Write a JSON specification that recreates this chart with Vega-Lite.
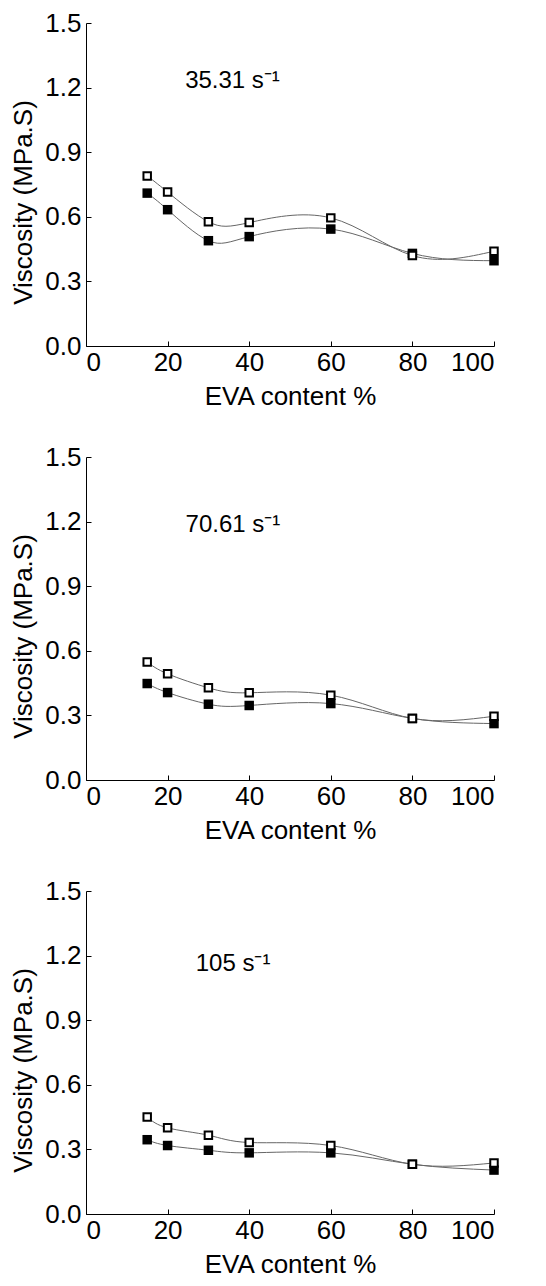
{
  "$schema": "https://vega.github.io/schema/vega-lite/v6.json",
  "background": "white",
  "padding": {"left": 10, "top": 10, "right": 5, "bottom": 5},
  "spacing": 35,
  "config": {
    "view": {"stroke": null},
    "font": "Liberation Sans",
    "axis": {
      "labelFont": "Liberation Sans", "labelFontSize": 26, "labelColor": "black",
      "titleFont": "Liberation Sans", "titleFontSize": 26, "titleFontWeight": "normal", "titleColor": "black",
      "domainColor": "black", "tickColor": "black", "grid": false, "tickSize": -5
    },
    "axisX": {"labelPadding": 8, "titlePadding": 8},
    "axisY": {"labelPadding": 10, "titlePadding": 8, "titleY": 179}
  },
  "data": {"values": [
    {"p": 1, "s": "open", "x": 15, "y": 0.79}, {"p": 1, "s": "open", "x": 20, "y": 0.715}, {"p": 1, "s": "open", "x": 30, "y": 0.577}, {"p": 1, "s": "open", "x": 40, "y": 0.573}, {"p": 1, "s": "open", "x": 60, "y": 0.595}, {"p": 1, "s": "open", "x": 80, "y": 0.42}, {"p": 1, "s": "open", "x": 100, "y": 0.44},
    {"p": 1, "s": "filled", "x": 15, "y": 0.71}, {"p": 1, "s": "filled", "x": 20, "y": 0.633}, {"p": 1, "s": "filled", "x": 30, "y": 0.489}, {"p": 1, "s": "filled", "x": 40, "y": 0.508}, {"p": 1, "s": "filled", "x": 60, "y": 0.543}, {"p": 1, "s": "filled", "x": 80, "y": 0.43}, {"p": 1, "s": "filled", "x": 100, "y": 0.396},
    {"p": 2, "s": "open", "x": 15, "y": 0.548}, {"p": 2, "s": "open", "x": 20, "y": 0.493}, {"p": 2, "s": "open", "x": 30, "y": 0.428}, {"p": 2, "s": "open", "x": 40, "y": 0.405}, {"p": 2, "s": "open", "x": 60, "y": 0.394}, {"p": 2, "s": "open", "x": 80, "y": 0.286}, {"p": 2, "s": "open", "x": 100, "y": 0.296},
    {"p": 2, "s": "filled", "x": 15, "y": 0.448}, {"p": 2, "s": "filled", "x": 20, "y": 0.406}, {"p": 2, "s": "filled", "x": 30, "y": 0.352}, {"p": 2, "s": "filled", "x": 40, "y": 0.346}, {"p": 2, "s": "filled", "x": 60, "y": 0.355}, {"p": 2, "s": "filled", "x": 80, "y": 0.286}, {"p": 2, "s": "filled", "x": 100, "y": 0.262},
    {"p": 3, "s": "open", "x": 15, "y": 0.45}, {"p": 3, "s": "open", "x": 20, "y": 0.40}, {"p": 3, "s": "open", "x": 30, "y": 0.366}, {"p": 3, "s": "open", "x": 40, "y": 0.332}, {"p": 3, "s": "open", "x": 60, "y": 0.318}, {"p": 3, "s": "open", "x": 80, "y": 0.231}, {"p": 3, "s": "open", "x": 100, "y": 0.237},
    {"p": 3, "s": "filled", "x": 15, "y": 0.345}, {"p": 3, "s": "filled", "x": 20, "y": 0.318}, {"p": 3, "s": "filled", "x": 30, "y": 0.296}, {"p": 3, "s": "filled", "x": 40, "y": 0.284}, {"p": 3, "s": "filled", "x": 60, "y": 0.284}, {"p": 3, "s": "filled", "x": 80, "y": 0.231}, {"p": 3, "s": "filled", "x": 100, "y": 0.204}
  ]},
  "vconcat": [
    {
      "width": 408, "height": 323,
      "layer": [
        {
          "transform": [{"filter": "datum.p == 1"}],
          "encoding": {
            "x": {"field": "x", "type": "quantitative", "scale": {"domain": [0, 100]}, "axis": {"values": [0, 20, 40, 60, 80, 100], "title": "EVA content %"}},
            "y": {"field": "y", "type": "quantitative", "scale": {"domain": [0, 1.5]}, "axis": {"values": [0, 0.3, 0.6, 0.9, 1.2, 1.5], "format": ".1f", "title": "Viscosity (MPa.S)"}}
          },
          "layer": [
            {"mark": {"type": "line", "interpolate": "natural", "color": "#666", "strokeWidth": 1}, "encoding": {"detail": {"field": "s"}}},
            {"transform": [{"filter": "datum.s == 'filled'"}], "mark": {"type": "point", "shape": "square", "filled": true, "color": "black", "size": 90, "opacity": 1}},
            {"transform": [{"filter": "datum.s == 'open'"}], "mark": {"type": "point", "shape": "square", "fill": "white", "stroke": "black", "strokeWidth": 2, "size": 56, "opacity": 1}}
          ]
        },
        {"data": {"values": [{"label": "35.31 s⁻¹"}]}, "mark": {"type": "text", "font": "Liberation Sans", "fontSize": 24, "align": "left", "baseline": "alphabetic", "color": "black"},
         "encoding": {"text": {"field": "label"},
           "x": {"datum": 24.3, "type": "quantitative", "scale": {"domain": [0, 100]}, "axis": {"values": [0, 20, 40, 60, 80, 100], "title": "EVA content %"}},
           "y": {"datum": 1.2, "type": "quantitative", "scale": {"domain": [0, 1.5]}, "axis": {"values": [0, 0.3, 0.6, 0.9, 1.2, 1.5], "format": ".1f", "title": "Viscosity (MPa.S)"}}}}
      ]
    },
    {
      "width": 408, "height": 323,
      "layer": [
        {
          "transform": [{"filter": "datum.p == 2"}],
          "encoding": {
            "x": {"field": "x", "type": "quantitative", "scale": {"domain": [0, 100]}, "axis": {"values": [0, 20, 40, 60, 80, 100], "title": "EVA content %"}},
            "y": {"field": "y", "type": "quantitative", "scale": {"domain": [0, 1.5]}, "axis": {"values": [0, 0.3, 0.6, 0.9, 1.2, 1.5], "format": ".1f", "title": "Viscosity (MPa.S)"}}
          },
          "layer": [
            {"mark": {"type": "line", "interpolate": "natural", "color": "#666", "strokeWidth": 1}, "encoding": {"detail": {"field": "s"}}},
            {"transform": [{"filter": "datum.s == 'filled'"}], "mark": {"type": "point", "shape": "square", "filled": true, "color": "black", "size": 90, "opacity": 1}},
            {"transform": [{"filter": "datum.s == 'open'"}], "mark": {"type": "point", "shape": "square", "fill": "white", "stroke": "black", "strokeWidth": 2, "size": 56, "opacity": 1}}
          ]
        },
        {"data": {"values": [{"label": "70.61 s⁻¹"}]}, "mark": {"type": "text", "font": "Liberation Sans", "fontSize": 24, "align": "left", "baseline": "alphabetic", "color": "black"},
         "encoding": {"text": {"field": "label"},
           "x": {"datum": 24.4, "type": "quantitative", "scale": {"domain": [0, 100]}, "axis": {"values": [0, 20, 40, 60, 80, 100], "title": "EVA content %"}},
           "y": {"datum": 1.153, "type": "quantitative", "scale": {"domain": [0, 1.5]}, "axis": {"values": [0, 0.3, 0.6, 0.9, 1.2, 1.5], "format": ".1f", "title": "Viscosity (MPa.S)"}}}}
      ]
    },
    {
      "width": 408, "height": 323,
      "layer": [
        {
          "transform": [{"filter": "datum.p == 3"}],
          "encoding": {
            "x": {"field": "x", "type": "quantitative", "scale": {"domain": [0, 100]}, "axis": {"values": [0, 20, 40, 60, 80, 100], "title": "EVA content %"}},
            "y": {"field": "y", "type": "quantitative", "scale": {"domain": [0, 1.5]}, "axis": {"values": [0, 0.3, 0.6, 0.9, 1.2, 1.5], "format": ".1f", "title": "Viscosity (MPa.S)"}}
          },
          "layer": [
            {"mark": {"type": "line", "interpolate": "natural", "color": "#666", "strokeWidth": 1}, "encoding": {"detail": {"field": "s"}}},
            {"transform": [{"filter": "datum.s == 'filled'"}], "mark": {"type": "point", "shape": "square", "filled": true, "color": "black", "size": 90, "opacity": 1}},
            {"transform": [{"filter": "datum.s == 'open'"}], "mark": {"type": "point", "shape": "square", "fill": "white", "stroke": "black", "strokeWidth": 2, "size": 56, "opacity": 1}}
          ]
        },
        {"data": {"values": [{"label": "105 s⁻¹"}]}, "mark": {"type": "text", "font": "Liberation Sans", "fontSize": 24, "align": "left", "baseline": "alphabetic", "color": "black"},
         "encoding": {"text": {"field": "label"},
           "x": {"datum": 26.9, "type": "quantitative", "scale": {"domain": [0, 100]}, "axis": {"values": [0, 20, 40, 60, 80, 100], "title": "EVA content %"}},
           "y": {"datum": 1.13, "type": "quantitative", "scale": {"domain": [0, 1.5]}, "axis": {"values": [0, 0.3, 0.6, 0.9, 1.2, 1.5], "format": ".1f", "title": "Viscosity (MPa.S)"}}}}
      ]
    }
  ]
}
